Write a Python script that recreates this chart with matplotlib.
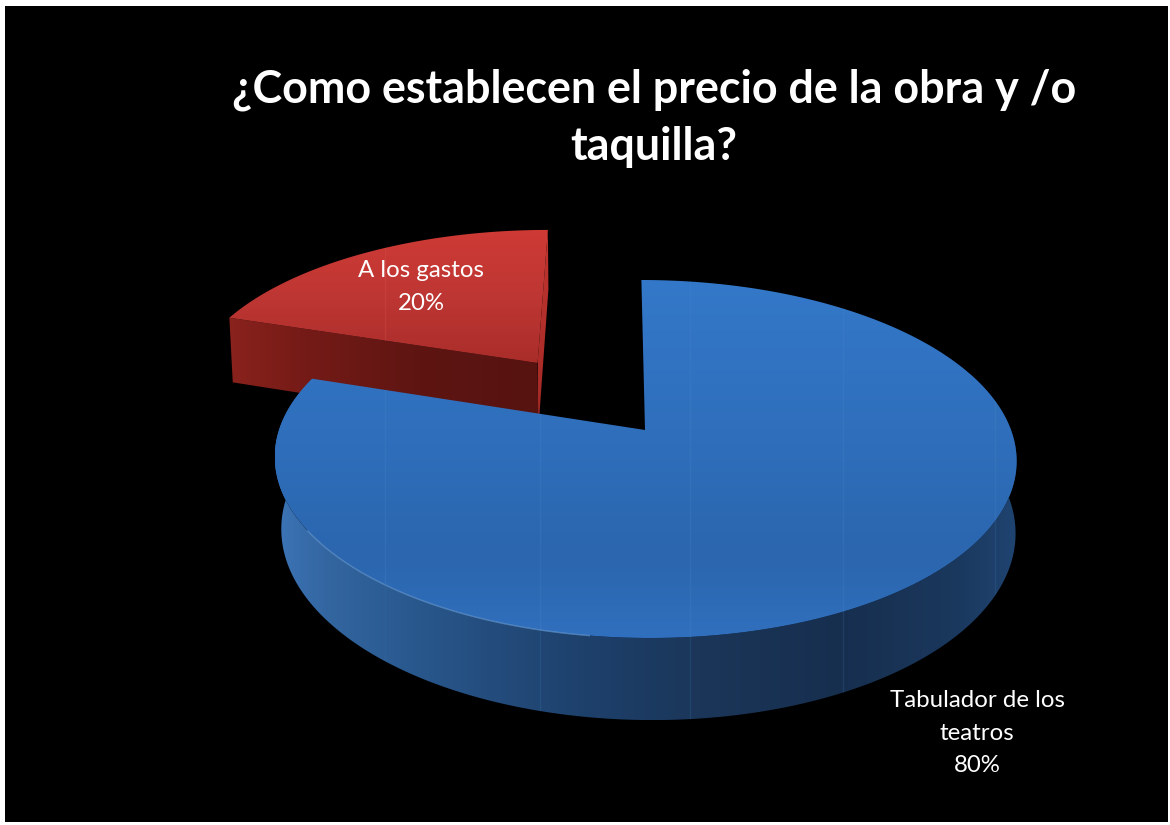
import numpy as np
import matplotlib
matplotlib.use("Agg")
import matplotlib.pyplot as plt
from matplotlib.colors import to_rgb
from matplotlib.patches import Polygon, Rectangle

# Survey answers
categories = ["A los gastos", "Tabulador de los\nteatros"]
percentages = [20, 80]
title_lines = "¿Como establecen el precio de la obra y /o\ntaquilla?"

plt.rcParams["font.family"] = ["Lato", "DejaVu Sans"]

# Perspective camera for the tilted disc, in pixel units
VANISH_X, APEX_X, APEX_Y = 619.0, 645.0, 430.0
RADIUS, TILT, PERSP, THICK, PERSP_Z = 366.0, 174.3, 0.162, 71.7, 0.01
WALL_SHIFT = 3.0
EXPLODE = 0.507
RED_SHIFT = -3.5


def project(u, v, z=0.0, wall_shift=WALL_SHIFT, dx=0.0):
    s = 1.0 / (1.0 + PERSP * v + PERSP_Z * z)
    x = VANISH_X + (APEX_X - VANISH_X + RADIUS * u) * s + wall_shift * z + dx
    y = APEX_Y + (-TILT * v + THICK * z) * s
    return x, y


def rim(a0, a1, z=0.0, off=(0.0, 0.0), n=240, **kw):
    # Angles run clockwise from twelve o'clock
    t = np.radians(np.linspace(a0, a1, n))
    return np.column_stack(project(off[0] + np.sin(t), off[1] + np.cos(t), z, **kw))


def fill_gradient(ax, pts, axis, stops, zorder):
    xs, ys = pts[:, 0], pts[:, 1]
    x0, x1, y0, y1 = xs.min(), xs.max(), ys.min(), ys.max()
    pos = np.array([p for p, _ in stops], float)
    cols = np.array([to_rgb(c) for _, c in stops])
    if axis == "y":
        g = np.linspace(y0, y1, 400)
        img = np.stack([np.interp(g, pos, cols[:, i]) for i in range(3)], -1)[:, None, :]
    else:
        g = np.linspace(x0, x1, 600)
        img = np.stack([np.interp(g, pos, cols[:, i]) for i in range(3)], -1)[None, :, :]
    im = ax.imshow(img, extent=(x0, x1, y1, y0), aspect="auto",
                   interpolation="bilinear", zorder=zorder)
    clip = Polygon(pts, closed=True, transform=ax.transData, fc="none", ec="none")
    ax.add_patch(clip)
    im.set_clip_path(clip)


fig = plt.figure(figsize=(11.7, 8.25), dpi=100, facecolor="white")
ax = fig.add_axes([0, 0, 1, 1])
ax.add_patch(Rectangle((5, 6), 1163, 816, fc="black", ec="none", zorder=0))

spans = 3.6 * np.array(percentages, float)
blue_a0, blue_a1 = 0.0, spans[1]
red_a0, red_a1 = spans[1], spans[1] + spans[0]

# Exploded slice, pulled out along its bisector
mid = np.radians((red_a0 + red_a1) / 2)
off = (EXPLODE * np.sin(mid), EXPLODE * np.cos(mid))
red_kw = dict(wall_shift=0.0, dx=RED_SHIFT)
red_rim = rim(red_a0, red_a1, 0, off, 120, **red_kw)
red_apex = np.array(project(off[0], off[1], 0, **red_kw))
red_apex_b = np.array(project(off[0], off[1], 1, **red_kw))
corner_left = rim(red_a0, red_a0, 0, off, 1, **red_kw)[0]
corner_left_b = rim(red_a0, red_a0, 1, off, 1, **red_kw)[0]
corner_top = rim(red_a1, red_a1, 0, off, 1, **red_kw)[0]
corner_top_b = rim(red_a1, red_a1, 1, off, 1, **red_kw)[0]

strip = np.array([corner_top, red_apex, red_apex_b, corner_top_b])
fill_gradient(ax, strip, "y", [(230, "#c23530"), (410, "#a42a26")], 2)
front = np.array([corner_left, red_apex, red_apex_b, corner_left_b])
fill_gradient(ax, front, "x", [(230, "#8a221d"), (300, "#761b17"),
                               (420, "#5e1512"), (545, "#561310")], 3)
red_top = np.vstack([red_apex[None, :], red_rim])
fill_gradient(ax, red_top, "y", [(229, "#cf3a35"), (300, "#bd3633"),
                                 (365, "#a92d2a")], 4)

# Main slice: outer wall first, then the top face over it
wall = np.vstack([rim(70, blue_a1, 0), rim(70, blue_a1, 1)[::-1]])
fill_gradient(ax, wall, "x", [(277, "#3c74b6"), (330, "#33659f"), (400, "#2a5a90"),
                              (500, "#234b7b"), (600, "#1d3f69"), (700, "#1b3659"),
                              (840, "#172f4f"), (950, "#1a375c"), (1015, "#1f4470")], 5)
blue_top = np.vstack([np.array(project(0, 0, 0))[None, :], rim(blue_a0, blue_a1, 0)])
fill_gradient(ax, blue_top, "y", [(280, "#3478c9"), (430, "#2f6fbc"), (560, "#2b66ae"),
                                  (638, "#3170be")], 6)

# Pale highlight along the front-left rim
glint = rim(238, 188, 0, n=80)
ax.plot(glint[:, 0], glint[:, 1], color="#6fa3dd", lw=1.0, alpha=0.6, zorder=7)

# Faint vertical seams of the gradient tiles
for sx in (385, 540, 690, 843, 995):
    for pts, col in ((blue_top, "#4a88cf"), (wall, "#3f74ad")):
        ln, = ax.plot([sx, sx], [200, 760], color=col, lw=1.0, alpha=0.22, zorder=8)
        clip = Polygon(pts, closed=True, transform=ax.transData, fc="none", ec="none")
        ax.add_patch(clip)
        ln.set_clip_path(clip)
ln, = ax.plot([385, 385], [200, 500], color="#d8524c", lw=1.0, alpha=0.3, zorder=4.5)
clip = Polygon(red_top, closed=True, transform=ax.transData, fc="none", ec="none")
ax.add_patch(clip)
ln.set_clip_path(clip)

ax.text(654, 118, title_lines, color="white", fontsize=32.3, fontweight="bold",
        ha="center", va="center", linespacing=1.45, zorder=10)
ax.text(421, 287, f"{categories[0]}\n{percentages[0]}%", color="white", fontsize=17.3,
        ha="center", va="center", linespacing=1.66, zorder=10)
ax.text(977, 733, f"{categories[1]}\n{percentages[1]}%", color="white", fontsize=17.3,
        ha="center", va="center", linespacing=1.66, zorder=10)

ax.set_xlim(0, 1170)
ax.set_ylim(825, 0)
ax.axis("off")
fig.savefig("out.png", dpi=100, facecolor="white")
